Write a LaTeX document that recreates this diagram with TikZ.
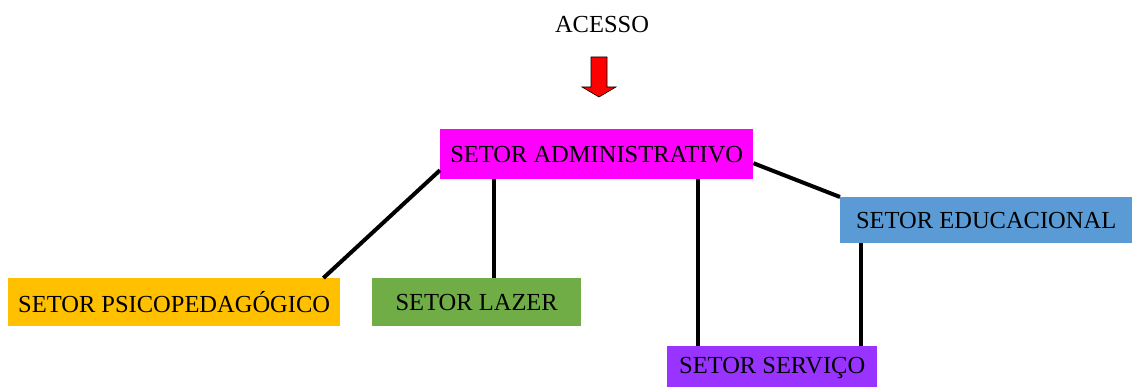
\documentclass[tikz,border=0pt]{standalone}
\usepackage{fontspec}
\setmainfont{Liberation Serif}
\usetikzlibrary{calc}
\definecolor{pinkbox}{HTML}{FF00FF}
\definecolor{orangebox}{HTML}{FFC000}
\definecolor{greenbox}{HTML}{70AD47}
\definecolor{bluebox}{HTML}{5B9BD5}
\definecolor{purplebox}{HTML}{9933FF}
\begin{document}
\begin{tikzpicture}[x=1pt,y=-1pt,
  sector/.style={rectangle, inner sep=0pt, anchor=north west, font=\fontsize{24.5}{29}\selectfont, text=black},
  link/.style={line width=4pt, black}]
\useasboundingbox (0,0) rectangle (1132,387);
\node[font=\fontsize{24.5}{29}\selectfont] (acesso) at (602,25) {ACESSO};
\draw[fill=red, draw=black, line width=0.6pt] (591,57) -- (607,57) -- (607,87) -- (616,87) -- (599,97) -- (582,87) -- (591,87) -- cycle;
\node[sector, fill=pinkbox, minimum width=313pt, minimum height=50pt] (adm) at (440,129) {SETOR ADMINISTRATIVO};
\node[sector, fill=orangebox, minimum width=332pt, minimum height=48pt] (psi) at (8,278) {SETOR PSICOPEDAGÓGICO};
\node[sector, fill=greenbox, minimum width=209pt, minimum height=48pt] (laz) at (372,278) {SETOR LAZER};
\node[sector, fill=bluebox, minimum width=292pt, minimum height=46pt] (edu) at (840,197) {SETOR EDUCACIONAL};
\node[sector, fill=purplebox, minimum width=210pt, minimum height=44pt] (ser) at (667,346) {SETOR SERVIÇO};
\draw[link] ($(adm.west)+(0,16)$) -- ($(psi.north east)+(-17,0)$);
\draw[link] ($(adm.south west)+(54,0)$) -- ($(laz.north west)+(122,0)$);
\draw[link] ($(adm.south west)+(258,0)$) -- ($(ser.north west)+(31,0)$);
\draw[link] ($(adm.east)+(0,9)$) -- (edu.north west);
\draw[link] ($(edu.south west)+(21,0)$) -- ($(ser.north west)+(194,0)$);
\end{tikzpicture}
\end{document}
